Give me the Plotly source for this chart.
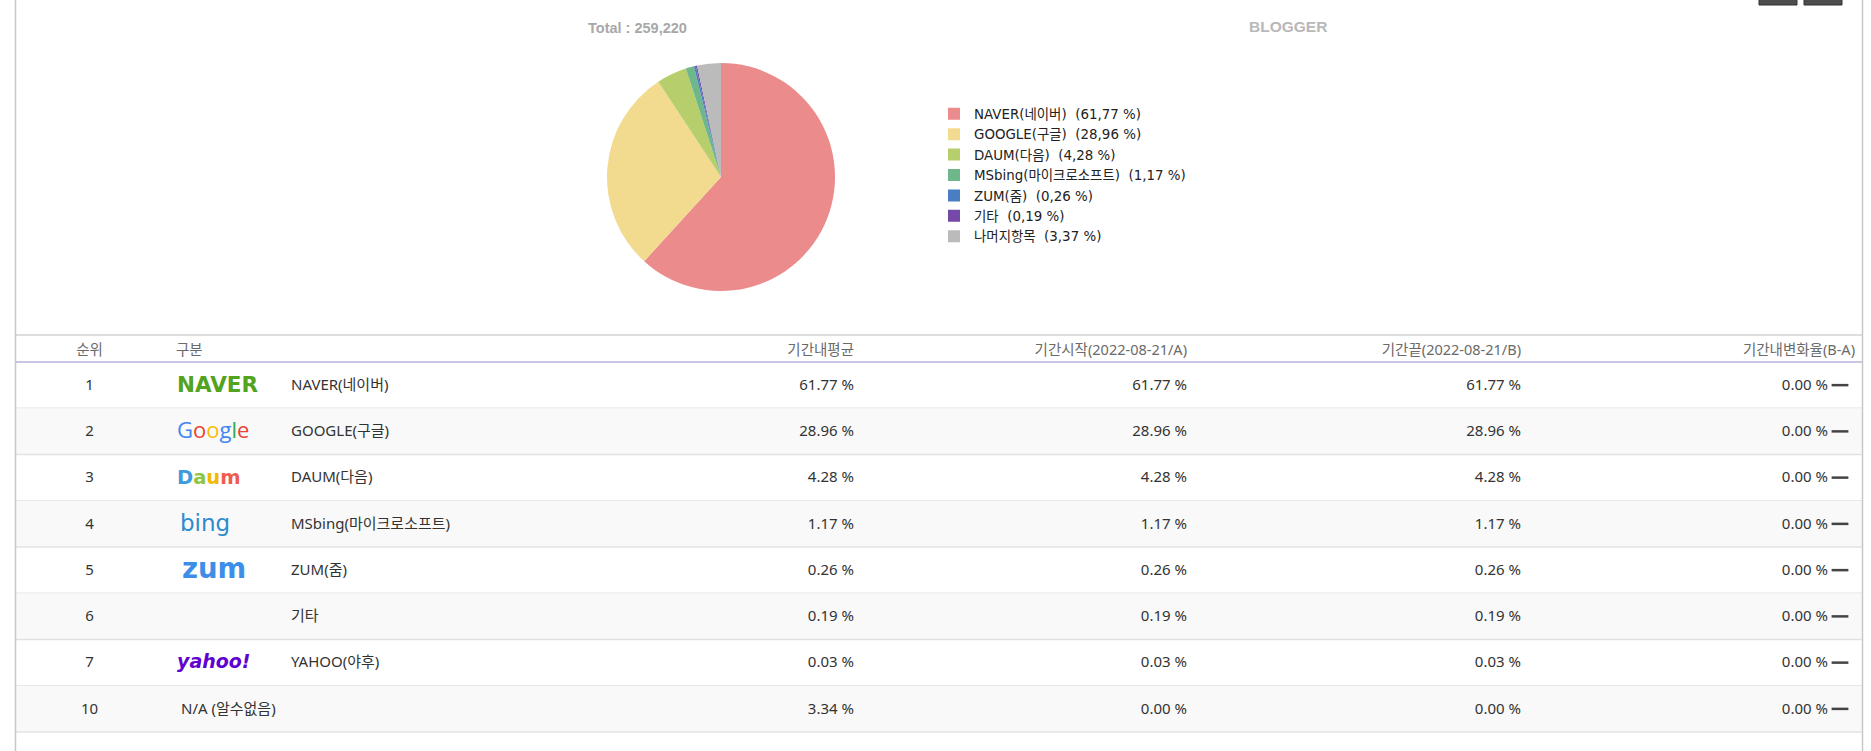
import plotly.graph_objects as go

W, H = 1871, 751

# ---------------- data ----------------
pie_labels = ["NAVER(네이버)", "GOOGLE(구글)", "DAUM(다음)", "MSbing(마이크로소프트)",
              "ZUM(줌)", "기타", "나머지항목"]
pie_values = [61.77, 28.96, 4.28, 1.17, 0.26, 0.19, 3.37]
pie_colors = ["#EC8B8B", "#F2DA8E", "#B6CE6B", "#6DB78A", "#4A7EC2", "#7449A7", "#BBBBBB"]
total_count = 259220

headers = ["순위", "구분", "기간내평균", "기간시작(2022-08-21/A)",
           "기간끝(2022-08-21/B)", "기간내변화율(B-A)"]
ranks = [1, 2, 3, 4, 5, 6, 7, 10]
names = ["NAVER(네이버)", "GOOGLE(구글)", "DAUM(다음)", "MSbing(마이크로소프트)",
         "ZUM(줌)", "기타", "YAHOO(야후)", "N/A (알수없음)"]
logo_keys = ["naver", "google", "daum", "bing", "zum", "", "yahoo", ""]
period_avg = [61.77, 28.96, 4.28, 1.17, 0.26, 0.19, 0.03, 3.34]
period_start = [61.77, 28.96, 4.28, 1.17, 0.26, 0.19, 0.03, 0.00]
period_end = [61.77, 28.96, 4.28, 1.17, 0.26, 0.19, 0.03, 0.00]
period_change = [0.00, 0.00, 0.00, 0.00, 0.00, 0.00, 0.00, 0.00]

# ---------------- styles ----------------
def colored(letters, colors):
    return "".join(f'<span style="color:{c}">{ch}</span>' for ch, c in zip(letters, colors))

# key: (html, family, size, color, x offset)
logo_styles = {
    "naver": ("<b>NAVER</b>", "DejaVu Sans", 21.5, "#52A31E", 0),
    "google": (colored("Google", ["#4285F4", "#EA4335", "#FBBC05", "#4285F4", "#34A853", "#EA4335"]),
               "Open Sans", 22, "#4285F4", 0),
    "daum": ("<b>" + colored("Daum", ["#3D9AE0", "#8CC63E", "#F5B800", "#F05A4F"]) + "</b>",
             "DejaVu Sans", 19.5, "#3D9AE0", 0),
    "bing": ("bing", "DejaVu Sans", 23, "#2D8CCD", 3),
    "zum": ("<b>zum</b>", "DejaVu Sans", 27.5, "#3D8EE8", 5),
    "yahoo": ("<b><i>yahoo!</i></b>", "DejaVu Sans", 19, "#6001D2", 0),
}

TXT_FONT = "Noto Sans, Noto Sans CJK KR, sans-serif"
TXT_SIZE = 15
TXT_COLOR = "#333333"
HDR_COLOR = "#6a6a6a"

LEFT, RIGHT = 15.5, 1862.5
TABLE_TOP = 335
HEADER_Y = 351
HEADER_BOTTOM = 362
ROW_H = 46.25

COL_RANK = 89.5
COL_LOGO = 177
COL_NAME = 291
COL_AVG = 854
COL_START = 1187
COL_END = 1521
COL_CHANGE = 1828
COL_DASH = 1840
COL_CHANGE_HDR = 1855

row_y = [HEADER_BOTTOM + ROW_H * (i + 0.5) + 1 for i in range(len(ranks))]

fig = go.Figure()

# ---------------- pie ----------------
cx, cy, r = 721, 177, 114
legend_labels = [f"{lab}  ({v:.2f} %)".replace(".", ",") for lab, v in zip(pie_labels, pie_values)]
fig.add_trace(go.Pie(
    labels=legend_labels, values=pie_values, sort=False, direction="clockwise", rotation=0,
    marker=dict(colors=pie_colors, line=dict(width=0)),
    textinfo="none", hoverinfo="label",
    domain=dict(x=[(cx - r) / W, (cx + r) / W], y=[1 - (cy + r) / H, 1 - (cy - r) / H]),
))

# ---------------- table text ----------------
def text_trace(xs, ys, texts, pos, color=TXT_COLOR, size=TXT_SIZE, family=TXT_FONT):
    return go.Scatter(x=xs, y=ys, text=texts, mode="text", textposition=pos,
                      textfont=dict(family=family, size=size, color=color),
                      showlegend=False, hoverinfo="skip", cliponaxis=False)

hdr_x = [COL_RANK, COL_LOGO - 1, COL_AVG, COL_START, COL_END, COL_CHANGE_HDR]
hdr_pos = ["middle center", "middle right", "middle left", "middle left", "middle left", "middle left"]
fig.add_trace(text_trace(hdr_x, [HEADER_Y] * len(headers), headers, hdr_pos, color=HDR_COLOR, size=14.5))

fig.add_trace(text_trace([COL_RANK] * len(ranks), row_y, [str(v) for v in ranks], "middle center"))

# logos
lx, ly, lt, lf, ls, lc = [], [], [], [], [], []
for key, y in zip(logo_keys, row_y):
    if key:
        html, fam, sz, col, dx = logo_styles[key]
        lx.append(COL_LOGO + dx); ly.append(y); lt.append(html); lf.append(fam); ls.append(sz); lc.append(col)
fig.add_trace(go.Scatter(x=lx, y=ly, text=lt, mode="text", textposition="middle right",
                         textfont=dict(family=lf, size=ls, color=lc),
                         showlegend=False, hoverinfo="skip", cliponaxis=False))

name_x = [COL_LOGO + 4 if n.startswith("N/A") else COL_NAME for n in names]
fig.add_trace(text_trace(name_x, row_y, names, "middle right"))

for col_x, vals in [(COL_AVG, period_avg), (COL_START, period_start),
                    (COL_END, period_end), (COL_CHANGE, period_change)]:
    fig.add_trace(text_trace([col_x] * len(vals), row_y, [f"{v:.2f} %" for v in vals], "middle left"))

# change indicator (dash)
fig.add_trace(go.Scatter(x=[COL_DASH] * len(period_change), y=[y - 1 for y in row_y], mode="markers",
                         marker=dict(symbol="line-ew", size=12, color="#444444",
                                     line=dict(width=2.5, color="#444444")),
                         showlegend=False, hoverinfo="skip", cliponaxis=False))

# ---------------- shapes ----------------
shapes = []
for i in range(len(ranks)):
    y0 = HEADER_BOTTOM + ROW_H * i
    if i % 2 == 1:
        shapes.append(dict(type="rect", xref="x", yref="y", x0=LEFT + 0.5, x1=RIGHT - 0.5,
                           y0=y0, y1=y0 + ROW_H, fillcolor="#F9F9F9", line=dict(width=0), layer="below"))
    shapes.append(dict(type="line", xref="x", yref="y", x0=LEFT, x1=RIGHT,
                       y0=y0 + ROW_H, y1=y0 + ROW_H, line=dict(color="#E2E2E2", width=1.5), layer="below"))
shapes.append(dict(type="line", xref="x", yref="y", x0=LEFT, x1=RIGHT, y0=TABLE_TOP, y1=TABLE_TOP,
                   line=dict(color="#D2D2D2", width=1.5), layer="below"))
shapes.append(dict(type="line", xref="x", yref="y", x0=LEFT, x1=RIGHT, y0=HEADER_BOTTOM, y1=HEADER_BOTTOM,
                   line=dict(color="#B9B0DE", width=1.5), layer="below"))
for bx in [LEFT, RIGHT]:
    shapes.append(dict(type="line", xref="x", yref="y", x0=bx, x1=bx, y0=0, y1=H,
                       line=dict(color="#C8C8C8", width=1.5), layer="below"))
# toolbar buttons (top-right, partially visible)
for bx0, bx1 in [(1759, 1797), (1804, 1842)]:
    shapes.append(dict(type="rect", xref="x", yref="y", x0=bx0, x1=bx1, y0=-12, y1=5,
                       fillcolor="#4D4D4D", line=dict(color="#333333", width=1)))

annotations = [
    dict(x=637, y=28, xref="x", yref="y", text=f"<b>Total : {total_count:,}</b>", showarrow=False,
         font=dict(family="Liberation Sans, Arial, sans-serif", size=14.5, color="#A8A8A8")),
    dict(x=1288, y=26, xref="x", yref="y", text="<b>BLOGGER</b>", showarrow=False,
         font=dict(family="Liberation Sans, Arial, sans-serif", size=15.5, color="#B8B8B8")),
]

fig.update_layout(
    width=W, height=H, margin=dict(l=0, r=0, t=0, b=0),
    paper_bgcolor="white", plot_bgcolor="white",
    xaxis=dict(range=[0, W], visible=False, fixedrange=True, domain=[0, 1]),
    yaxis=dict(range=[H, 0], visible=False, fixedrange=True, domain=[0, 1]),
    shapes=shapes, annotations=annotations,
    showlegend=True,
    legend=dict(x=934 / W, xanchor="left", y=1 - 98.5 / H, yanchor="top",
                font=dict(family="DejaVu Sans, Noto Sans CJK KR, sans-serif", size=13.4, color="#222222"),
                bgcolor="rgba(0,0,0,0)", borderwidth=0, itemclick=False, itemdoubleclick=False),
)

fig.write_html("out.html", config={"displayModeBar": False})
